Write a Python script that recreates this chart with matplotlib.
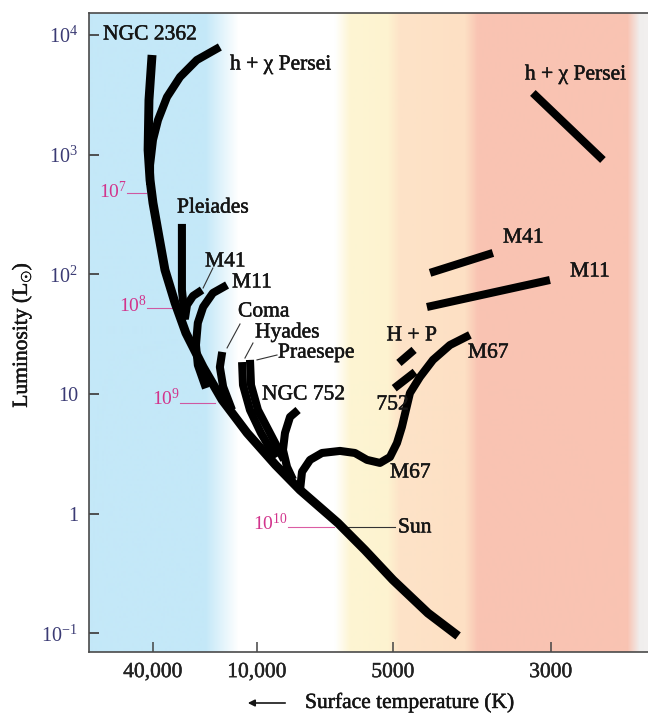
import numpy as np
import matplotlib
matplotlib.use('Agg')
import matplotlib.pyplot as plt
import matplotlib.patheffects as pe
from matplotlib.colors import to_rgb

plt.rcParams['font.family'] = ['Liberation Serif', 'DejaVu Serif']
plt.rcParams['mathtext.fontset'] = 'custom'
plt.rcParams['mathtext.rm'] = 'Liberation Serif'
plt.rcParams['mathtext.it'] = 'Liberation Serif:italic'

# cluster tracks: surface temperature (K) and luminosity (L_sun)
ms_temp = [40500, 42200, 42700, 41600, 40000, 36900, 34100, 29800, 25800, 20500,
           15900, 11400, 9100, 8030, 6620, 5770, 5000, 4465, 4050]
ms_lum = [6810, 2860, 1095, 615, 395, 205, 109, 57.7, 32.4, 16.8,
          8.93, 4.73, 2.56, 1.58, 0.838, 0.498, 0.280, 0.148, 0.0953]

hx_temp = [16400, 22300, 27900, 33200, 37400, 40000, 41600, 41600]
hx_lum = [7940, 6180, 4460, 3030, 1950, 1330, 820, 560]
hx_giant_temp = [3180, 2535]
hx_giant_lum = [3280, 903]

pleiades_temp = [27200, 27200, 26100]
pleiades_lum = [264, 74.1, 41.6]

m41_temp = [20800, 23470, 25420, 26100]
m41_lum = [74.1, 66.0, 55.5, 43.2]
m41_giant_temp = [4435, 3619]
m41_giant_lum = [103, 151]

m11_temp = [14900, 18000, 20500, 22000, 22560, 22000, 19740]
m11_lum = [81.5, 69.9, 53.4, 39.3, 25.7, 17.5, 11.2]
m11_giant_temp = [4480, 3009]
m11_giant_lum = [53.4, 89.8]

coma_temp = [15900, 16400, 15700, 13950]
coma_lum = [22.5, 16.8, 11.5, 7.36]

hyades_temp = [12200, 12050, 10980, 9800, 9100]
hyades_lum = [18.5, 11.9, 7.36, 4.73, 2.93]
praesepe_temp = [10980, 10830, 9950, 9360, 8715]
praesepe_lum = [19.3, 11.9, 7.36, 4.73, 2.82]
hp_giant_temp = [4905, 4670]
hp_giant_lum = [18.2, 23.4]

ngc752_temp = [8110, 8450, 8670, 8760, 8580, 8320]
ngc752_lum = [7.36, 6.44, 4.73, 3.41, 2.46, 1.92]
ngc752_giant_temp = [4980, 4655]
ngc752_giant_lum = [11.2, 15.3]

m67_temp = [8030, 7950, 7630, 7180, 6550, 6070, 5708, 5343, 5077, 4936, 4858,
            4733, 4582, 4393, 4158, 3898]
m67_lum = [1.58, 2.24, 2.82, 3.22, 3.35, 3.22, 2.82, 2.66, 2.98, 3.90, 5.31,
           10.2, 13.9, 19.3, 25.7, 31.2]

temp_ticks = [40000, 10000, 5000, 3000]
temp_tick_labels = ['40,000', '10,000', '5000', '3000']
lum_ticks = [0.1, 1, 10, 100, 1000, 10000]
lum_tick_labels = [r'$10^{-1}$', '1', '10', r'$10^{2}$', r'$10^{3}$', r'$10^{4}$']

age_labels = [r'$10^{7}$', r'$10^{8}$', r'$10^{9}$', r'$10^{10}$']

# the printed temperature axis is not a plain log scale: piecewise in log T
KNOT_LOGT = np.array([-6.0, -4.0, -3.69897, -2.0])
KNOT_POS = np.array([-88.52, 257.0, 393.0, 1602.2])


def t_forward(t):
    t = np.clip(np.asarray(t, dtype=float), 1.0, None)
    return np.interp(-np.log10(t), KNOT_LOGT, KNOT_POS)


def t_inverse(p):
    return 10 ** (-np.interp(np.asarray(p, dtype=float), KNOT_POS, KNOT_LOGT))


fig = plt.figure(figsize=(6.48, 7.13), dpi=100)
pos = [89 / 648, 1 - 652 / 713, 559 / 648, 639 / 713]

# coloured background bands
bg = fig.add_axes(pos, zorder=0)
stops = [(0.0, '#c4e8f8'), (0.2075, '#c4e8f8'), (0.2665, '#ffffff'),
         (0.440, '#ffffff'), (0.467, '#fdf5d3'), (0.535, '#fdf3d0'),
         (0.556, '#fde3c8'), (0.673, '#fde0c4'), (0.696, '#f9c4b3'),
         (0.964, '#f9c3b2'), (0.986, '#f0eeed'), (1.0, '#f2f0ef')]
xs = np.linspace(0, 1, 560)
sp = [s[0] for s in stops]
cols = np.array([to_rgb(s[1]) for s in stops])
row = np.stack([np.interp(xs, sp, cols[:, k]) for k in range(3)], axis=-1)
bg.imshow(row[np.newaxis, :, :], aspect='auto', extent=[0, 1, 0, 1])
bg.axis('off')

ax = fig.add_axes(pos, zorder=1)
ax.patch.set_alpha(0)
ax.set_xscale('function', functions=(t_forward, t_inverse))
ax.set_yscale('log')

lw = 5.8
kw = dict(color='black', solid_capstyle='butt', solid_joinstyle='round', zorder=3)
ax.plot(ms_temp, ms_lum, lw=6.4, **kw)
tracks = [(hx_temp, hx_lum), (hx_giant_temp, hx_giant_lum),
          (pleiades_temp, pleiades_lum), (m41_temp, m41_lum),
          (m41_giant_temp, m41_giant_lum), (m11_temp, m11_lum),
          (m11_giant_temp, m11_giant_lum), (coma_temp, coma_lum),
          (hyades_temp, hyades_lum), (praesepe_temp, praesepe_lum),
          (hp_giant_temp, hp_giant_lum), (ngc752_temp, ngc752_lum),
          (ngc752_giant_temp, ngc752_giant_lum), (m67_temp, m67_lum)]
for t, l in tracks:
    ax.plot(t, l, lw=lw, **kw)

# the scale already runs hot -> cool, so limits go in increasing order here
ax.set_xlim(2191, 93850)
ax.set_ylim(0.0700, 15270)

# cluster names
fs = 15.5
heavy = [pe.withStroke(linewidth=0.35, foreground='#151515')]
names = [('NGC 2362', 77860, 10000), ('h + χ Persei', 14330, 5615),
         ('h + χ Persei', 3263, 4633), ('Pleiades', 29050, 358),
         ('M41', 20000, 127), ('M11', 13950, 84.8), ('Coma', 12880, 48.5),
         ('Hyades', 10270, 32.4), ('Praesepe', 8985, 22.0),
         ('NGC 752', 9750, 9.83), ('752', 5440, 8.11), ('H + P', 5167, 30.6),
         ('M67', 3924, 22.0), ('M67', 5078, 2.19), ('M41', 3503, 201),
         ('M11', 2820, 104.7), ('Sun', 4920, 0.761)]
for s, t, l in names:
    ax.text(t, l, s, fontsize=fs, color='#151515', ha='left', va='center',
            zorder=4, path_effects=heavy)

leaders = [((18000, 113), (20500, 77.0)), ((12540, 38.5), (14900, 24.3)),
           ((10550, 26.7), (11740, 20.0)), ((10000, 19.3), (9030, 21.2)),
           ((6290, 0.776), (4970, 0.776))]
for (t0, l0), (t1, l1) in leaders:
    ax.plot([t0, t1], [l0, l1], color='#333333', lw=0.8, zorder=2)

# cluster ages in pink
pink = '#d2348c'
age_pos = [(56560, 497, 43900, 478), (43320, 54.5, 31050, 52.4),
           (27900, 9.1, 17510, 8.43), (8540, 0.822, 6754, 0.776)]
for s, (t0, l0, t1, l1) in zip(age_labels, age_pos):
    ax.text(t0, l0, s, fontsize=14, color=pink, ha='right', va='center', zorder=4)
    ax.plot([t0, t1], [l1, l1], color=pink, lw=0.8, alpha=0.8, zorder=2)

ax.set_xticks(temp_ticks)
ax.set_xticklabels(temp_tick_labels)
ax.set_yticks(lum_ticks)
ax.set_yticklabels(lum_tick_labels)
ax.minorticks_off()
ax.tick_params(axis='x', direction='in', length=7, width=1.1, color='#444444',
               labelsize=15.5, labelcolor='#222222', pad=8)
ax.tick_params(axis='y', direction='in', length=7.5, width=1.3, color='#444444',
               labelsize=14.5, labelcolor='#3b3b74', pad=8)
for lab in ax.get_xticklabels():
    lab.set_path_effects([pe.withStroke(linewidth=0.3, foreground='#222222')])
for side in ['left', 'bottom', 'top']:
    ax.spines[side].set_color('#4a4a4a')
    ax.spines[side].set_linewidth(1.2)
ax.spines['right'].set_visible(False)

fig.text(22 / 648, 1 - 335 / 713, r'Luminosity (L$_{\odot}$)', rotation=90,
         fontsize=15.5, ha='center', va='center', color='#151515', path_effects=heavy)
fig.text(305 / 648, 1 - 703 / 713, 'Surface temperature (K)', fontsize=15.5,
         ha='left', va='center', color='#151515', path_effects=heavy)
fig.add_artist(matplotlib.patches.FancyArrowPatch(
    (288 / 648, 1 - 703 / 713), (245 / 648, 1 - 703 / 713),
    transform=fig.transFigure, arrowstyle='-|>', mutation_scale=10,
    color='#151515', lw=1.2))

fig.savefig('out.png', dpi=100)
